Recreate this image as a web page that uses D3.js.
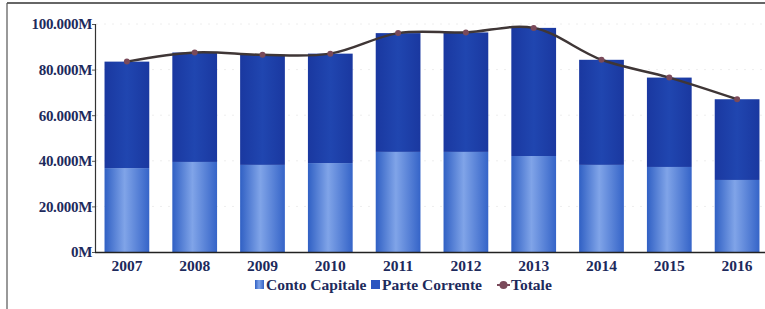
<!DOCTYPE html>
<html>
<head>
<meta charset="utf-8">
<script src="https://cdn.jsdelivr.net/npm/d3@7"></script>
<style>
  html, body { margin: 0; padding: 0; background: #fff; }
  svg { display: block; }
  svg text { font-family: "Liberation Serif", "DejaVu Serif", serif !important; font-weight: bold; fill: #1d2a5c; }
</style>
</head>
<body>
<svg id="chart" width="765" height="309"></svg>
<script>
const years = ["2007","2008","2009","2010","2011","2012","2013","2014","2015","2016"];
const contoCapitale = [36.8, 39.5, 38.2, 39.0, 43.9, 43.9, 42.1, 38.2, 37.3, 31.6];
const parteCorrente = [46.7, 48.0, 48.3, 48.0, 52.1, 52.4, 56.2, 46.1, 39.2, 35.4];
const yTicks = [0, 20, 40, 60, 80, 100];
const tickLabels = ["0M", "20.000M", "40.000M", "60.000M", "80.000M", "100.000M"];
const legendLabels = ["Conto Capitale", "Parte Corrente", "Totale"];

const totale = years.map((d, i) => contoCapitale[i] + parteCorrente[i]);

const svg = d3.select("#chart");
const W = 765, H = 309;
const FONT = '"Liberation Serif", "DejaVu Serif", serif';

// frame
svg.append("line").attr("x1", 7).attr("x2", W).attr("y1", 3).attr("y2", 3)
  .attr("stroke", "#333").attr("stroke-width", 1.5);
svg.append("line").attr("x1", 7).attr("x2", 7).attr("y1", 3).attr("y2", H)
  .attr("stroke", "#555").attr("stroke-width", 1.2);

const defs = svg.append("defs");
const gLight = defs.append("linearGradient").attr("id", "gLight").attr("x1", "0%").attr("x2", "100%");
gLight.append("stop").attr("offset", "0%").attr("stop-color", "#3060c4");
gLight.append("stop").attr("offset", "45%").attr("stop-color", "#80a4e8");
gLight.append("stop").attr("offset", "100%").attr("stop-color", "#3564c8");
const gDark = defs.append("linearGradient").attr("id", "gDark").attr("x1", "0%").attr("x2", "100%");
gDark.append("stop").attr("offset", "0%").attr("stop-color", "#1a38a0");
gDark.append("stop").attr("offset", "50%").attr("stop-color", "#2046b0");
gDark.append("stop").attr("offset", "100%").attr("stop-color", "#1a38a0");

const x = d3.scaleBand().domain(years).range([93, 771]).paddingInner(0.34).paddingOuter(0.17);
const y = d3.scaleLinear().domain([0, 100]).range([252, 24]);

// faint gridlines
svg.append("g").selectAll("line").data(yTicks.slice(1)).join("line")
  .attr("x1", 96).attr("x2", W).attr("y1", d => y(d)).attr("y2", d => y(d))
  .attr("stroke", "#eee").attr("stroke-width", 1).attr("stroke-dasharray", "2,6");

// bars
const bars = svg.append("g");
bars.selectAll("rect.cc").data(years).join("rect").attr("class", "cc")
  .attr("x", d => x(d)).attr("width", x.bandwidth())
  .attr("y", (d, i) => y(contoCapitale[i]))
  .attr("height", (d, i) => y(0) - y(contoCapitale[i]))
  .attr("fill", "url(#gLight)");
bars.selectAll("rect.pc").data(years).join("rect").attr("class", "pc")
  .attr("x", d => x(d)).attr("width", x.bandwidth())
  .attr("y", (d, i) => y(totale[i]))
  .attr("height", (d, i) => y(contoCapitale[i]) - y(totale[i]))
  .attr("fill", "url(#gDark)");

// y axis
const yAxis = d3.axisLeft(y).tickValues(yTicks).tickSize(3).tickFormat((d, i) => tickLabels[i]);
const ya = svg.append("g").attr("transform", "translate(95,0)").call(yAxis).attr("font-family", FONT);
ya.select(".domain").attr("stroke", "#333").attr("stroke-width", 1.2);
ya.selectAll(".tick line").attr("stroke", "#555");
ya.selectAll("text").attr("font-size", 15).attr("x", -3).style("letter-spacing", "-0.3px");

// x axis
const xAxis = d3.axisBottom(x).tickSize(0).tickPadding(8);
const xa = svg.append("g").attr("transform", "translate(0,252)").call(xAxis).attr("font-family", FONT);
xa.select(".domain").attr("d", "M95,0.5H765").attr("stroke", "#222").attr("stroke-width", 1.5);
xa.selectAll("text").attr("font-size", 15.5);

// total line
const line = d3.line().x((d, i) => x(years[i]) + x.bandwidth() / 2).y(d => y(d)).curve(d3.curveCatmullRom.alpha(0.5));
svg.append("path").datum(totale).attr("d", line)
  .attr("fill", "none").attr("stroke", "#3f3636").attr("stroke-width", 2.5);
svg.append("g").selectAll("circle").data(totale).join("circle")
  .attr("cx", (d, i) => x(years[i]) + x.bandwidth() / 2).attr("cy", d => y(d))
  .attr("r", 3).attr("fill", "#7a4a5a");

// legend
const lg = svg.append("g").attr("transform", "translate(0,285)").attr("font-family", FONT);
lg.append("rect").attr("x", 255).attr("y", -5).attr("width", 9).attr("height", 9).attr("fill", "url(#gLight)");
lg.append("text").attr("x", 266).attr("y", 5).attr("font-size", 15.5).style("font-family", FONT).text(legendLabels[0]);
lg.append("rect").attr("x", 371).attr("y", -5).attr("width", 9).attr("height", 9).attr("fill", "#2a55c0");
lg.append("text").attr("x", 382).attr("y", 5).attr("font-size", 15.5).style("font-family", FONT).text(legendLabels[1]);
lg.append("line").attr("x1", 497).attr("x2", 510).attr("y1", 0).attr("y2", 0).attr("stroke", "#7a4a5a").attr("stroke-width", 2);
lg.append("circle").attr("cx", 503.5).attr("cy", 0).attr("r", 4).attr("fill", "#7a4a5a");
lg.append("text").attr("x", 511).attr("y", 5).attr("font-size", 15.5).style("font-family", FONT).text(legendLabels[2]);
</script>
</body>
</html>
